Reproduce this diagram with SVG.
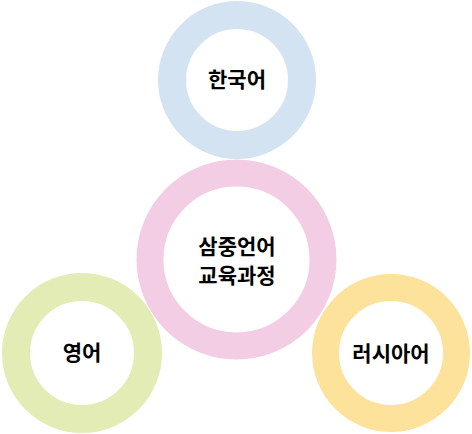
<svg xmlns="http://www.w3.org/2000/svg" width="472" height="434" viewBox="0 0 472 434">
<style>
.ring{fill:none}
.lbl{font-family:"Noto Sans CJK KR","Noto Sans",sans-serif;font-weight:bold;font-size:21px;fill:#000;text-anchor:middle}
</style>
<rect width="472" height="434" fill="#fff"/>
<g id="connectors"></g>
<g id="korean">
<circle class="ring" cx="237" cy="80" r="65" stroke="#d3e3f2" stroke-width="28"/>
<text class="lbl" x="237" y="87">한국어</text>
</g>
<g id="center">
<circle class="ring" cx="236.5" cy="259.5" r="86.5" stroke="#f2cde4" stroke-width="27"/>
<text class="lbl" x="237" y="254">삼중언어</text>
<text class="lbl" x="237" y="283">교육과정</text>
</g>
<g id="english">
<circle class="ring" cx="82" cy="353" r="66" stroke="#e3ecb4" stroke-width="28"/>
<text class="lbl" x="82" y="360">영어</text>
</g>
<g id="russian">
<circle class="ring" cx="391" cy="353" r="65.5" stroke="#fde29c" stroke-width="27"/>
<text class="lbl" x="391" y="361">러시아어</text>
</g>
</svg>
